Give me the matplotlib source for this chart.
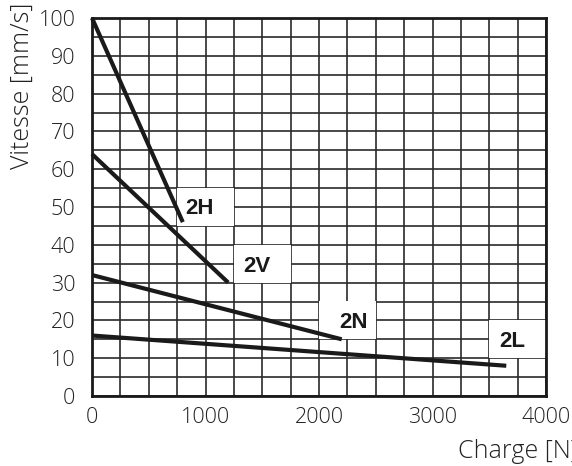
import matplotlib
matplotlib.use("Agg")
import matplotlib.pyplot as plt
from matplotlib.patches import Rectangle

# curves: charge [N] -> vitesse [mm/s]
labels = ["2H", "2V", "2N", "2L"]
charge_start = [0, 0, 0, 0]
charge_end = [800, 1200, 2200, 3650]
speed_start = [100, 64, 32, 16]
speed_end = [46, 30, 15, 8]

# label positions and their white boxes (x0, x1, y0, y1)
label_pos = [(950, 49.6), (1455, 34.3), (2300, 19.5), (3700, 14.5)]
label_box = [(750, 1250, 45, 55), (1250, 1750, 30, 40),
             (2000, 2500, 15, 25), (3500, 4000, 10, 20)]

x_ticks = [0, 1000, 2000, 3000, 4000]
y_ticks = list(range(0, 101, 10))

plt.rcParams['font.family'] = ['Open Sans', 'DejaVu Sans']

fig = plt.figure(figsize=(5.72, 4.66), dpi=100)
ax = fig.add_axes([92 / 572, 1 - 396 / 466, 454 / 572, 378 / 466])

ax.set_xlim(0, 4000)
ax.set_ylim(0, 100)
ax.set_xticks(x_ticks)
ax.set_yticks(y_ticks)
ax.set_xticks(range(0, 4001, 250), minor=True)
ax.set_yticks(range(0, 101, 5), minor=True)
ax.grid(which='both', color='#2a2a2a', lw=1.2, zorder=1)
ax.set_axisbelow(True)
ax.tick_params(which='both', length=0)
ax.tick_params(axis='x', pad=8, labelsize=15.5, labelcolor='#222222')
ax.tick_params(axis='y', pad=12, labelsize=15.5, labelcolor='#222222')
for lab in ax.get_xticklabels() + ax.get_yticklabels():
    lab.set_fontweight('light')
for s in ax.spines.values():
    s.set_linewidth(2)
    s.set_color('#1a1a1a')

for (x0, x1, y0, y1) in label_box:
    ax.add_patch(Rectangle((x0, y0), x1 - x0, y1 - y0, facecolor='white',
                           edgecolor='none', zorder=2))

for i, lab in enumerate(labels):
    ax.plot([charge_start[i], charge_end[i]], [speed_start[i], speed_end[i]],
            color='#1a1a1a', lw=3, solid_capstyle='butt', zorder=3, clip_on=False)
    ax.text(label_pos[i][0], label_pos[i][1], lab, ha='center', va='center',
            fontsize=16, fontweight='bold', family='Liberation Sans',
            color='#1a1a1a', zorder=4)

fig.text(22 / 572, 1 - 3 / 466, "Vitesse [mm/s]", rotation=90, ha='center', va='top',
         fontsize=18, fontweight='light', color='#222222')
fig.text(458 / 572, 1 - 452 / 466, "Charge [N]", ha='left', va='center',
         fontsize=18, fontweight='light', color='#222222')

fig.savefig("out.png", dpi=100)
